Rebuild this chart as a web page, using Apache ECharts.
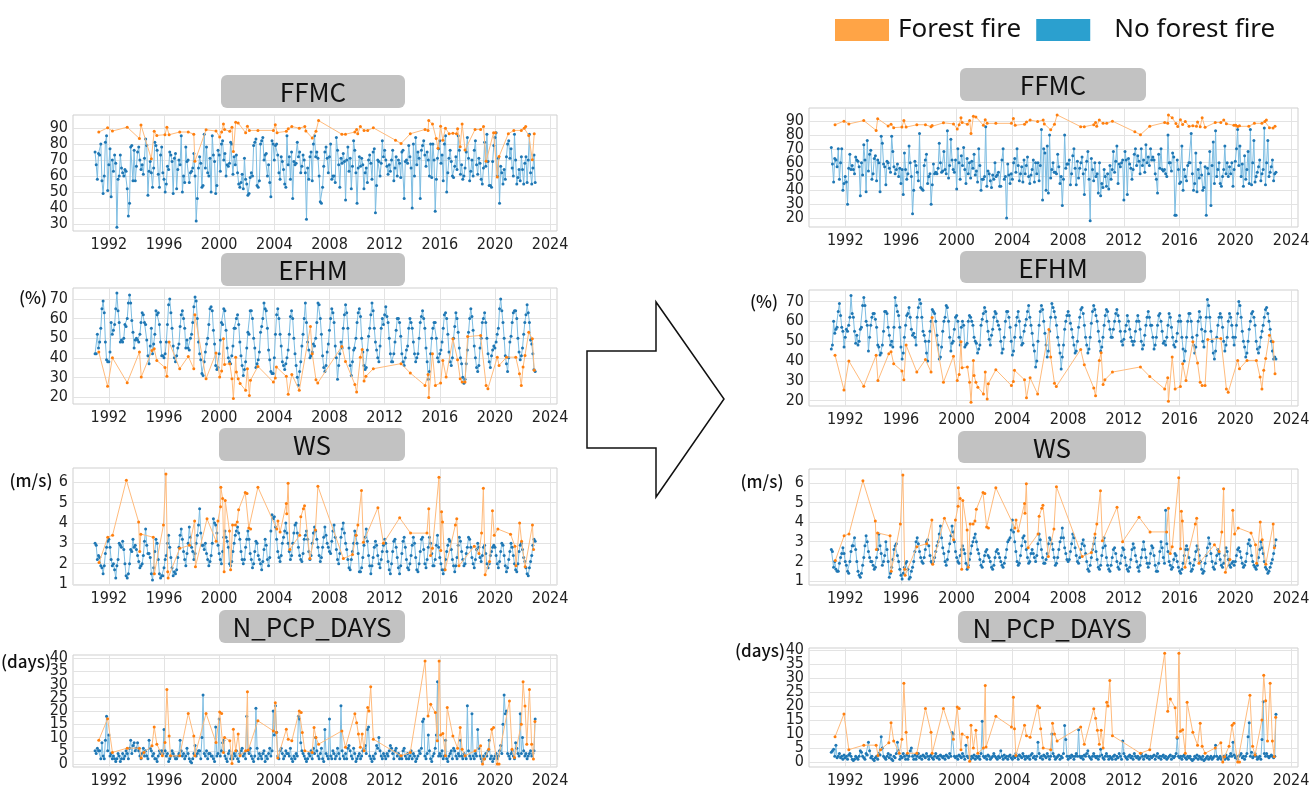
<!DOCTYPE html>
<html>
<head>
<meta charset="utf-8">
<title>Forest fire vs. no forest fire indices</title>
<script src="https://cdn.jsdelivr.net/npm/echarts@6/dist/echarts.min.js"></script>
<style>
  html, body { margin: 0; padding: 0; background: #ffffff; }
  #chart { width: 1315px; height: 789px; }
</style>
</head>
<body>
<div id="chart"></div>
<script>
// ---------------------------------------------------------------
// Data
// ---------------------------------------------------------------
// Monthly "no forest fire" records start in January of this year.
const START_YEAR = 1991;

const xTicks = [1992, 1996, 2000, 2004, 2008, 2012, 2016, 2020, 2024];
const ticksFFMC_L = [30, 40, 50, 60, 70, 80, 90];
const ticksFFMC_R = [20, 30, 40, 50, 60, 70, 80, 90];
const ticksEFHM = [20, 30, 40, 50, 60, 70];
const ticksWS = [1, 2, 3, 4, 5, 6];
const ticksPCP = [0, 5, 10, 15, 20, 25, 30, 35, 40];

// ---- FFMC, no forest fire (monthly), before / after ----
const noFireFFMC_L = [
  75, 67, 58, 74, 73, 80, 57, 49, 60, 81, 85, 51,
  67, 77, 47, 70, 63, 73, 68, 28, 58, 60, 73, 65,
  62, 60, 64, 63, 52, 35, 43, 78, 79, 57, 76, 57,
  66, 75, 78, 70, 64, 67, 61, 71, 83, 79, 48, 63,
  69, 62, 53, 65, 81, 79, 76, 61, 53, 73, 78, 62,
  58, 50, 55, 66, 64, 75, 73, 69, 49, 71, 74, 52,
  64, 70, 67, 85, 50, 60, 56, 78, 69, 70, 56, 62,
  63, 65, 74, 60, 32, 46, 65, 72, 68, 53, 54, 86,
  65, 78, 62, 60, 71, 50, 85, 73, 69, 49, 54, 76,
  73, 63, 80, 82, 70, 74, 60, 67, 66, 68, 81, 80,
  61, 72, 67, 73, 62, 55, 53, 56, 61, 52, 71, 58,
  55, 48, 49, 59, 62, 60, 79, 81, 83, 54, 53, 57,
  80, 82, 84, 70, 73, 74, 60, 67, 56, 47, 82, 80,
  70, 79, 80, 73, 62, 58, 72, 69, 64, 55, 53, 85,
  67, 72, 58, 75, 46, 69, 67, 68, 81, 72, 75, 62,
  66, 73, 70, 62, 33, 65, 58, 72, 75, 57, 80, 85,
  72, 75, 71, 60, 44, 43, 53, 66, 75, 78, 71, 62,
  72, 80, 58, 60, 60, 56, 84, 76, 67, 53, 71, 68,
  74, 69, 45, 70, 78, 63, 71, 52, 66, 82, 76, 62,
  43, 65, 72, 66, 71, 67, 52, 62, 65, 56, 70, 73,
  68, 58, 75, 77, 37, 54, 70, 69, 60, 68, 82, 72,
  76, 70, 66, 61, 67, 63, 70, 76, 57, 65, 72, 60,
  70, 68, 59, 75, 76, 46, 69, 70, 68, 79, 72, 65,
  40, 80, 60, 84, 67, 75, 71, 46, 76, 79, 82, 73,
  66, 75, 70, 60, 80, 59, 80, 70, 38, 58, 71, 77,
  82, 68, 73, 57, 80, 85, 50, 62, 71, 76, 69, 60,
  59, 66, 72, 64, 85, 76, 61, 67, 58, 60, 65, 75,
  84, 71, 57, 63, 70, 60, 76, 82, 67, 61, 71, 68,
  58, 55, 65, 81, 66, 86, 69, 54, 54, 53, 69, 79,
  84, 87, 60, 71, 43, 66, 62, 55, 64, 58, 72, 80,
  82, 71, 77, 65, 60, 86, 70, 55, 59, 64, 57, 72,
  64, 55, 68, 72, 56, 70, 86, 62, 55, 65, 73, 56
];
const noFireFFMC_R = [
  71, 59, 46, 63, 62, 57, 70, 48, 60, 70, 40, 45,
  50, 46, 30, 56, 66, 55, 58, 55, 52, 64, 62, 61,
  57, 36, 60, 51, 73, 62, 39, 76, 54, 66, 69, 48,
  52, 63, 65, 47, 62, 60, 39, 79, 74, 59, 57, 44,
  61, 60, 56, 53, 79, 68, 57, 52, 55, 59, 50, 56,
  45, 55, 37, 67, 55, 48, 52, 72, 60, 50, 23, 40,
  61, 58, 53, 47, 81, 42, 41, 40, 58, 62, 66, 45,
  50, 52, 30, 44, 59, 52, 53, 52, 56, 74, 60, 53,
  54, 68, 55, 52, 83, 49, 58, 77, 62, 55, 53, 62,
  41, 70, 60, 48, 65, 58, 71, 55, 45, 63, 52, 60,
  49, 61, 56, 66, 51, 54, 46, 70, 58, 40, 48, 48,
  50, 86, 43, 54, 52, 47, 42, 51, 48, 60, 50, 51,
  53, 43, 43, 62, 70, 48, 50, 20, 59, 51, 45, 52,
  48, 60, 63, 53, 70, 58, 47, 52, 57, 46, 62, 52,
  58, 64, 50, 45, 51, 55, 62, 46, 60, 52, 60, 47,
  58, 84, 33, 70, 67, 40, 72, 38, 80, 49, 55, 60,
  53, 53, 52, 66, 57, 45, 50, 29, 48, 80, 56, 59,
  59, 62, 44, 52, 65, 70, 56, 44, 61, 49, 56, 60,
  64, 52, 37, 55, 61, 68, 48, 18, 63, 55, 47, 60,
  50, 52, 38, 60, 36, 45, 42, 55, 50, 43, 52, 41,
  58, 48, 55, 68, 53, 61, 72, 45, 59, 57, 60, 62,
  33, 68, 62, 37, 63, 59, 56, 48, 55, 66, 70, 58,
  65, 61, 52, 70, 58, 62, 53, 73, 60, 64, 58, 70,
  62, 64, 62, 52, 48, 38, 66, 56, 70, 55, 54, 55,
  52, 50, 80, 60, 60, 54, 67, 64, 22, 22, 62, 55,
  45, 46, 72, 40, 55, 50, 47, 58, 60, 60, 81, 52,
  40, 45, 67, 39, 55, 49, 60, 51, 40, 42, 57, 22,
  56, 52, 68, 29, 58, 75, 45, 83, 50, 55, 60, 45,
  43, 50, 55, 72, 52, 60, 50, 57, 52, 60, 43, 55,
  61, 70, 84, 58, 72, 50, 59, 43, 65, 48, 55, 68,
  45, 84, 44, 60, 76, 46, 50, 53, 57, 62, 47, 52,
  55, 85, 44, 60, 76, 50, 53, 57, 62, 47, 52, 53
];

// ---- FFMC, forest fire events (decimal year) ----
const fireDateFFMC = [
  1991.27, 1991.91, 1992.26, 1993.33, 1994.22, 1994.33, 1995.08, 1995.29, 1995.48, 1996.07,
  1996.21, 1996.37, 1997.14, 1997.76, 1998.16, 1998.24, 1999.05, 1999.77, 2000.04, 2000.18,
  2000.31, 2000.39, 2000.77, 2000.93, 2001.03, 2001.20, 2001.38, 2001.92, 2002.05, 2002.19,
  2002.81, 2003.93, 2004.07, 2004.20, 2004.87, 2005.01, 2005.27, 2005.81, 2006.21, 2006.29,
  2006.75, 2007.02, 2007.21, 2008.90, 2009.16, 2009.84, 2009.97, 2010.05, 2010.24, 2010.51,
  2010.77, 2011.18, 2012.79, 2013.19, 2013.86, 2014.93, 2015.15, 2015.20, 2015.47, 2015.74,
  2015.87, 2016.06, 2016.22, 2016.41, 2016.68, 2016.95, 2017.21, 2017.29, 2017.48, 2017.62,
  2017.83, 2018.56, 2018.96, 2019.17, 2019.36, 2019.90, 2020.03, 2020.17, 2020.30, 2020.97,
  2021.37, 2021.91, 2022.12, 2022.23, 2022.45, 2022.71, 2022.85
];
const fireFFMC_L = [
  87.4, 90, 88, 90.4, 83.3, 91.8, 70.7, 87.8, 85.3, 85.7,
  90.4, 85.7, 87.4, 87.4, 86, 69.1, 88.8, 88, 84.3, 87.4,
  92.4, 89, 87.8, 90.4, 75.2, 93.5, 93, 87, 91, 88.4,
  88.4, 88.4, 92, 87, 87.8, 89.4, 90.8, 89.8, 90.8, 88,
  83.7, 87.8, 94.5, 86, 86, 87.4, 89, 86.3, 90.8, 88.4,
  88.4, 90, 82.3, 80.2, 86.3, 89, 88.4, 94.5, 92.4, 83.3,
  77.2, 91, 82.3, 89.8, 86.3, 86.7, 86.3, 89.4, 78.2, 92.4,
  76.2, 89, 89, 90.8, 69.1, 87, 87, 59.3, 72.1, 86.3,
  88.4, 88.4, 89.8, 90.8, 85.3, 70.1, 86.3
];
const fireFFMC_R = [
  87.4, 90, 88, 90.4, 83.3, 91.8, 86.5, 87.8, 85.3, 85.7,
  90.4, 85.7, 87.4, 87.4, 86, 86.8, 88.8, 88, 84.3, 87.4,
  92.4, 89, 87.8, 90.4, 81, 93.5, 93, 87, 91, 88.4,
  88.4, 88.4, 92, 87, 87.8, 89.4, 90.8, 89.8, 90.8, 88,
  83.7, 87.8, 94.5, 86, 86, 87.4, 89, 86.3, 90.8, 88.4,
  88.4, 90, 82.3, 80.2, 86.3, 89, 88.4, 94.5, 92.4, 88.3,
  86.2, 91, 87.5, 89.8, 86.3, 86.7, 86.3, 89.4, 86, 92.4,
  85.5, 89, 89, 90.8, 88.1, 87, 87, 86.2, 86.6, 86.3,
  88.4, 88.4, 89.8, 90.8, 85.3, 85.1, 86.3
];

// ---- EFHM (%), no forest fire (monthly) ----
const noFireEFHM_L = [
  42, 42, 52, 45, 48, 55, 65, 69, 63, 48, 39, 38,
  38, 43, 58, 52, 54, 57, 65, 73, 64, 58, 48, 49,
  48, 50, 57, 56, 60, 68, 72, 68, 59, 53, 45, 49,
  50, 49, 48, 52, 58, 63, 62, 58, 57, 49, 41, 37,
  46, 55, 42, 47, 52, 64, 62, 63, 57, 48, 41, 41,
  40, 42, 48, 57, 67, 70, 63, 55, 46, 40, 38, 41,
  45, 47, 56, 62, 64, 60, 55, 45, 49, 45, 44, 50,
  52, 58, 66, 71, 69, 60, 48, 42, 39, 32, 31, 38,
  43, 47, 50, 57, 65, 66, 64, 54, 47, 36, 34, 35,
  42, 49, 58, 57, 65, 64, 54, 45, 40, 38, 37, 41,
  46, 55, 55, 60, 62, 57, 48, 41, 36, 31, 34, 38,
  45, 53, 52, 64, 64, 60, 50, 45, 35, 37, 39, 43,
  53, 56, 60, 68, 65, 64, 55, 44, 39, 33, 32, 32,
  40, 52, 62, 65, 60, 52, 46, 38, 36, 34, 37, 40,
  44, 52, 61, 64, 60, 50, 42, 36, 30, 26, 33, 38,
  46, 52, 60, 68, 58, 48, 44, 40, 41, 43, 47, 46,
  50, 58, 68, 67, 60, 52, 41, 35, 33, 36, 43, 47,
  54, 60, 65, 63, 58, 46, 40, 29, 36, 42, 48, 45,
  55, 62, 67, 63, 55, 45, 36, 31, 38, 44, 45, 50,
  58, 63, 65, 61, 50, 43, 36, 34, 35, 44, 51, 55,
  62, 68, 64, 55, 48, 44, 40, 38, 46, 55, 60, 57,
  62, 66, 61, 58, 50, 42, 38, 38, 42, 48, 54, 60,
  60, 58, 51, 42, 38, 36, 40, 44, 46, 55, 60, 58,
  55, 48, 42, 38, 40, 42, 50, 58, 61, 64, 60, 55,
  45, 38, 29, 33, 42, 50, 55, 58, 58, 50, 40, 38,
  42, 44, 48, 55, 62, 63, 60, 52, 43, 38, 36, 40,
  50, 56, 63, 60, 53, 45, 40, 37, 30, 27, 29, 37,
  44, 53, 60, 65, 61, 54, 46, 40, 35, 33, 36, 45,
  50, 58, 60, 63, 58, 50, 42, 38, 35, 41, 44, 46,
  45, 48, 52, 55, 65, 70, 64, 58, 50, 41, 37, 33,
  40, 48, 51, 58, 63, 64, 64, 60, 50, 43, 39, 41,
  45, 52, 58, 62, 67, 63, 58, 49, 47, 42, 34, 33
];
const noFireEFHM_R = [
  46, 48, 60, 54, 56, 57, 65, 69, 63, 57, 55, 47,
  52, 56, 55, 58, 62, 73, 64, 62, 55, 49, 53, 48,
  50, 56, 57, 68, 72, 68, 60, 58, 45, 52, 58, 62,
  64, 64, 61, 57, 48, 47, 43, 44, 48, 55, 65, 65,
  64, 57, 53, 48, 50, 47, 57, 72, 68, 65, 63, 57,
  47, 41, 44, 52, 58, 63, 64, 67, 62, 56, 53, 54,
  52, 48, 62, 67, 71, 69, 62, 55, 53, 50, 44, 40,
  50, 55, 60, 66, 65, 64, 60, 53, 48, 41, 42, 47,
  55, 60, 62, 68, 67, 60, 52, 45, 49, 50, 56, 62,
  63, 60, 52, 48, 57, 60, 58, 47, 48, 49, 60, 63,
  62, 60, 58, 52, 50, 49, 44, 46, 48, 58, 61, 64,
  67, 65, 60, 55, 51, 48, 53, 56, 62, 65, 64, 60,
  58, 56, 50, 44, 46, 52, 60, 65, 65, 62, 57, 50,
  43, 45, 52, 58, 62, 65, 60, 52, 48, 49, 55, 58,
  61, 65, 68, 62, 58, 54, 48, 45, 37, 40, 50, 58,
  65, 68, 66, 60, 54, 48, 42, 45, 55, 62, 69, 67,
  65, 62, 58, 52, 48, 44, 36, 42, 48, 56, 60, 63,
  65, 63, 59, 56, 52, 48, 44, 45, 50, 57, 62, 66,
  67, 64, 58, 52, 48, 44, 46, 52, 59, 65, 68, 66,
  63, 60, 55, 50, 45, 47, 52, 58, 63, 66, 65, 60,
  56, 52, 52, 56, 60, 64, 66, 63, 60, 55, 50, 48,
  51, 55, 58, 63, 60, 56, 52, 50, 48, 50, 55, 60,
  63, 60, 56, 50, 46, 48, 53, 58, 62, 65, 62, 58,
  58, 52, 46, 48, 52, 58, 63, 64, 60, 55, 49, 50,
  48, 52, 58, 64, 62, 57, 52, 48, 47, 50, 54, 60,
  63, 60, 52, 46, 40, 45, 52, 60, 64, 64, 60, 52,
  48, 44, 47, 53, 60, 65, 62, 56, 50, 47, 55, 62,
  71, 68, 62, 55, 50, 44, 41, 45, 52, 58, 62, 64,
  62, 57, 50, 45, 48, 52, 60, 64, 62, 58, 52, 48,
  52, 58, 64, 70, 68, 62, 55, 50, 47, 42, 44, 50,
  56, 60, 64, 65, 62, 58, 50, 46, 44, 47, 52, 55,
  58, 62, 66, 67, 64, 60, 56, 50, 45, 41, 42, 41
];

// ---- EFHM (%), forest fire events ----
const fireDateEFHM = [
  1991.27, 1991.91, 1992.26, 1993.33, 1994.22, 1994.35, 1995.13, 1995.29, 1995.48, 1996.07,
  1996.21, 1996.37, 1997.14, 1997.76, 1998.16, 1998.24, 1999.05, 1999.77, 2000.04, 2000.18,
  2000.31, 2000.39, 2000.77, 2000.93, 2001.03, 2001.20, 2001.25, 2001.38, 2001.52, 2001.92,
  2002.05, 2002.19, 2002.27, 2002.81, 2003.93, 2004.07, 2004.15, 2004.87, 2005.01, 2005.27,
  2005.81, 2006.62, 2006.75, 2007.02, 2007.15, 2008.90, 2009.16, 2009.84, 2009.97, 2010.24,
  2010.37, 2010.51, 2010.64, 2011.18, 2013.19, 2013.86, 2014.93, 2015.15, 2015.20, 2015.47,
  2015.68, 2016.06, 2016.22, 2016.46, 2016.95, 2017.29, 2017.48, 2017.62, 2017.83, 2018.02,
  2018.96, 2019.36, 2019.49, 2020.17, 2020.30, 2020.84, 2021.51, 2021.78, 2021.91, 2022.04,
  2022.18, 2022.45, 2022.71, 2022.85
];
const fireEFHM = [
  42.9, 25.4, 40, 27.3, 42.9, 30.2, 43.7, 44.6, 38.6, 35,
  30.5, 48, 34.4, 40.7, 34.4, 61.9, 29.3, 42.4, 30.2, 33.2,
  49.7, 36.6, 37, 29.3, 19.2, 40.3, 32.7, 29.3, 26.8, 23.4,
  34.4, 20.8, 28.5, 35.6, 27.6, 29.7, 35.3, 30.5, 21.4, 31.5,
  23.4, 55.9, 42, 28.8, 27.1, 45.8, 38.1, 26.4, 22.5, 40.3,
  44.2, 28.1, 30.5, 34.4, 37, 32.2, 25.9, 31.5, 19.7, 42,
  25.9, 27.1, 38.6, 30.2, 49.7, 39, 29.3, 27.6, 27.6, 50.8,
  51.4, 25.9, 24.2, 40.3, 36.1, 40.3, 40.3, 31.9, 25.9, 35.3,
  41.2, 53, 49.7, 33.6
];

// ---- WS (m/s), no forest fire (monthly) ----
const noFireWS_L = [
  3.0, 2.9, 2.2, 2.4, 2.3, 1.9, 1.8, 1.5, 1.9, 2.5, 2.8, 3.1,
  3.2, 2.8, 2.2, 1.9, 2.0, 1.7, 1.3, 1.9, 2.2, 3.0, 2.9, 2.8,
  3.1, 2.7, 2.0, 1.4, 1.3, 1.5, 2.0, 2.7, 2.6, 3.2, 2.8, 2.9,
  2.7, 2.4, 2.1, 1.8, 1.9, 2.0, 2.4, 3.1, 3.7, 2.9, 2.5, 2.5,
  2.3, 1.5, 1.2, 1.8, 2.6, 3.2, 3.0, 2.2, 1.5, 1.3, 1.4, 1.4,
  1.8, 2.2, 2.4, 3.0, 3.4, 2.8, 2.3, 1.8, 1.4, 1.6, 1.5, 1.7,
  2.3, 2.8, 3.4, 3.7, 3.2, 2.6, 2.2, 1.9, 2.5, 3.0, 3.8, 3.3,
  2.8, 2.6, 2.2, 2.5, 3.0, 3.4, 3.9, 4.7, 3.5, 2.9, 2.9, 2.7,
  3.0, 2.5, 2.2, 1.9, 2.1, 2.4, 3.0, 4.2, 4.0, 3.9, 3.5, 2.9,
  2.5, 2.2, 2.0, 2.6, 3.3, 3.6, 3.3, 3.1, 2.8, 2.0, 1.9, 2.1,
  2.6, 3.0, 3.4, 3.6, 3.8, 3.5, 3.2, 2.6, 2.2, 2.0, 2.2, 2.8,
  3.2, 3.6, 3.2, 2.5, 2.2, 1.8, 2.0, 2.6, 3.1, 3.0, 2.4, 2.2,
  2.0, 1.7, 2.1, 2.7, 3.2, 2.9, 2.2, 1.9, 2.3, 3.6, 4.4, 4.2,
  4.3, 3.8, 3.2, 2.6, 2.3, 2.1, 2.4, 3.0, 3.3, 3.6, 4.0, 3.5,
  3.0, 2.6, 2.2, 2.4, 3.0, 3.5, 3.9, 4.0, 3.5, 2.8, 2.4, 2.2,
  2.1, 2.5, 3.2, 3.4, 3.6, 3.2, 2.6, 2.2, 2.4, 3.0, 3.5, 3.8,
  3.6, 3.2, 2.8, 2.4, 2.1, 2.3, 2.8, 3.3, 3.8, 3.4, 3.0, 2.8,
  2.6, 2.5, 3.1, 3.6, 3.9, 3.3, 2.7, 2.2, 2.0, 2.5, 3.3, 3.7,
  4.0, 3.5, 3.0, 2.7, 2.2, 1.8, 1.7, 2.2, 2.6, 3.0, 3.6, 3.4,
  3.0, 2.5, 1.6, 1.6, 1.8, 2.3, 2.9, 3.3, 3.7, 3.1, 2.4, 1.9,
  1.5, 1.9, 2.3, 2.8, 3.1, 2.9, 2.4, 2.0, 1.8, 2.2, 2.6, 2.9,
  3.2, 3.0, 2.6, 2.1, 1.7, 1.5, 2.0, 2.6, 3.1, 3.2, 2.8, 2.3,
  1.8, 1.5, 1.9, 2.5, 3.1, 3.3, 2.8, 2.2, 1.8, 1.7, 2.0, 2.4,
  2.9, 3.3, 3.0, 2.3, 1.7, 1.6, 2.0, 2.6, 3.2, 3.3, 2.7, 2.0,
  1.8, 2.2, 2.8, 3.3, 3.0, 2.5, 1.9, 1.9, 2.2, 2.9, 3.4, 2.8,
  2.3, 2.0, 1.7, 1.5, 1.7, 2.2, 2.6, 2.9, 3.2, 3.1, 2.7, 2.2,
  1.9, 1.6, 1.9, 2.3, 2.9, 3.3, 3.1, 2.6, 2.2, 1.9, 2.0, 2.5,
  2.8, 3.3, 3.2, 2.8, 2.3, 2.0, 1.8, 2.2, 2.7, 3.0, 2.8, 2.3,
  2.1, 2.4, 2.8, 2.9, 2.5, 2.0, 1.8, 2.0, 2.4, 2.6, 2.8, 2.9,
  2.8, 2.4, 2.0, 1.8, 2.1, 2.6, 3.0, 2.9, 2.4, 1.9, 1.6, 1.8,
  2.2, 2.6, 3.0, 2.8, 2.4, 2.0, 1.7, 1.6, 2.0, 2.6, 2.9, 3.0,
  2.7, 2.3, 2.1, 1.8, 1.5, 1.4, 1.8, 2.1, 2.4, 2.9, 3.2, 3.1
];
const noFireWS_R = [
  2.6, 2.5, 1.7, 2.0, 1.6, 1.5, 1.5, 1.9, 2.2, 2.4, 2.7, 2.4,
  2.0, 1.8, 1.5, 1.4, 2.0, 2.5, 2.8, 2.8, 3.2, 2.6, 2.0, 1.5,
  1.3, 1.2, 1.4, 1.8, 2.2, 2.8, 3.3, 3.0, 2.5, 2.2, 2.0, 2.0,
  1.8, 1.6, 1.7, 2.2, 2.6, 3.4, 2.8, 2.4, 1.8, 2.0, 2.3, 3.0,
  2.6, 2.0, 1.2, 1.4, 1.7, 2.1, 2.6, 2.8, 2.9, 2.3, 2.0, 1.6,
  1.3, 1.1, 1.4, 1.7, 1.9, 2.0, 1.6, 1.1, 1.2, 1.5, 1.7, 2.0,
  2.5, 3.0, 3.2, 2.9, 2.5, 2.2, 2.0, 1.9, 2.2, 2.6, 3.0, 3.1,
  2.8, 2.3, 2.0, 1.9, 2.0, 2.2, 2.5, 2.8, 3.0, 3.4, 3.8, 3.2,
  2.7, 2.4, 2.0, 1.8, 2.1, 2.5, 2.9, 3.3, 3.8, 3.5, 3.0, 2.5,
  2.2, 2.0, 1.9, 2.3, 2.6, 2.8, 2.6, 2.4, 1.9, 1.6, 1.8, 2.1,
  2.4, 2.8, 3.0, 3.2, 3.4, 3.0, 2.6, 2.4, 2.1, 1.8, 1.7, 2.0,
  2.3, 2.5, 2.6, 2.3, 2.2, 2.0, 1.7, 1.6, 1.8, 2.2, 2.5, 2.6,
  2.4, 2.2, 2.0, 1.8, 1.7, 1.9, 2.2, 2.6, 3.0, 3.1, 3.2, 3.6,
  4.1, 3.5, 3.0, 2.5, 2.0, 1.8, 1.9, 2.3, 2.8, 3.2, 3.3, 3.0,
  2.6, 2.2, 1.9, 2.0, 2.4, 2.6, 2.4, 2.2, 2.0, 2.3, 2.9, 3.4,
  3.1, 2.6, 2.2, 1.9, 1.9, 2.1, 2.4, 2.9, 3.2, 3.1, 2.9, 2.6,
  2.2, 1.8, 1.9, 2.2, 2.6, 3.0, 3.2, 3.7, 3.2, 2.7, 2.4, 2.1,
  2.0, 2.1, 2.5, 2.9, 3.4, 3.2, 2.7, 2.3, 2.0, 1.9, 2.2, 2.6,
  2.9, 3.1, 2.8, 2.4, 2.0, 1.6, 1.5, 1.8, 2.2, 2.6, 2.9, 3.2,
  2.5, 2.1, 1.7, 1.6, 1.8, 2.3, 2.7, 3.2, 2.8, 2.2, 1.8, 1.6,
  1.5, 1.8, 2.2, 2.6, 2.7, 2.4, 2.0, 1.7, 1.6, 1.9, 2.3, 2.7,
  2.6, 2.2, 1.8, 1.6, 1.5, 1.7, 2.1, 2.6, 2.9, 2.7, 2.3, 2.0,
  1.7, 1.5, 1.8, 2.2, 2.6, 3.0, 2.6, 2.2, 1.9, 1.7, 1.9, 2.4,
  2.8, 2.7, 2.3, 1.8, 1.5, 1.5, 1.9, 2.5, 3.0, 2.7, 2.2, 1.9,
  4.6, 2.9, 2.5, 2.0, 1.8, 1.6, 1.7, 2.1, 2.4, 2.3, 2.0, 1.7,
  1.5, 1.4, 1.6, 1.9, 2.3, 2.6, 2.8, 2.6, 2.2, 1.9, 1.5, 1.6,
  1.8, 2.1, 2.5, 2.8, 2.6, 2.3, 2.0, 1.6, 1.4, 1.5, 1.9, 2.3,
  2.7, 3.2, 2.9, 2.4, 2.0, 1.7, 1.6, 1.9, 2.3, 2.6, 2.4, 2.1,
  1.8, 1.7, 1.9, 2.3, 2.7, 2.5, 2.1, 1.8, 1.7, 1.9, 2.0, 1.8,
  2.0, 2.3, 2.6, 2.7, 2.5, 2.2, 1.9, 1.7, 1.8, 2.0, 2.4, 2.9,
  3.1, 2.8, 2.3, 2.0, 1.8, 1.7, 1.6, 1.8, 2.2, 2.6, 3.0, 2.7,
  2.4, 2.0, 1.7, 1.6, 1.4, 1.5, 1.7, 1.9, 2.1, 2.4, 2.8, 3.1
];

// ---- WS (m/s), forest fire events ----
const fireDateWS = [
  1991.29, 1991.92, 1992.27, 1993.27, 1994.16, 1994.24, 1994.32, 1995.22, 1995.30, 1995.96,
  1996.14, 1996.27, 1996.30, 1997.14, 1997.85, 1998.22, 1998.28, 1999.12, 1999.78, 1999.91,
  2000.10, 2000.12, 2000.25, 2000.36, 2000.44, 2000.75, 2000.83, 2000.97, 2001.18, 2001.31,
  2001.41, 2001.89, 2002.02, 2002.15, 2002.28, 2002.81, 2004.18, 2004.26, 2004.42, 2004.87,
  2004.90, 2005.00, 2005.13, 2005.84, 2005.92, 2006.11, 2006.19, 2006.58, 2006.98, 2007.16,
  2009.01, 2009.67, 2009.93, 2010.06, 2010.32, 2010.46, 2011.51, 2011.91, 2013.09, 2013.88,
  2015.07, 2015.20, 2015.33, 2015.47, 2015.94, 2016.07, 2016.13, 2016.20, 2016.39, 2017.13,
  2017.23, 2017.39, 2018.50, 2018.84, 2019.03, 2019.16, 2019.29, 2019.61, 2019.82, 2019.95,
  2020.21, 2021.13, 2021.45, 2021.53, 2021.79, 2021.93, 2022.19, 2022.72, 2022.80
];
const fireWS = [
  2.05, 3.3, 3.4, 6.1, 4.05, 2.6, 3.45, 3.3, 1.5, 3.9,
  6.4, 1.6, 1.3, 2.75, 2.9, 4.1, 1.85, 4.2, 3.1, 4.1,
  4.8, 5.75, 5.2, 1.6, 5.1, 3.6, 1.7, 3.9, 3.9, 4.05,
  4.65, 5.5, 5.45, 3.75, 3.7, 5.75, 3.7, 4.1, 3.55, 4.95,
  4.45, 5.95, 2.7, 3.4, 4.3, 4.7, 4.85, 2.25, 3.65, 5.8,
  2.25, 2.45, 3.4, 3.9, 5.6, 3.05, 4.75, 3.0, 4.25, 3.5,
  3.5, 4.7, 2.4, 2.75, 6.25, 2.65, 4.55, 4.05, 1.7, 3.9,
  4.2, 1.9, 2.85, 2.5, 3.5, 5.7, 1.45, 2.1, 4.6, 3.4,
  3.7, 3.45, 2.85, 1.9, 4.0, 3.1, 1.85, 3.9, 2.7
];

// ---- N_PCP_DAYS (days), no forest fire (monthly) ----
const noFirePCP_L = [
  5, 4, 6, 5, 5, 2, 8, 3, 2, 9, 18, 5,
  11, 3, 4, 2, 3, 2, 1, 2, 4, 3, 1, 2,
  4, 2, 3, 5, 4, 2, 6, 9, 4, 7, 8, 5,
  6, 8, 5, 3, 2, 4, 6, 3, 5, 3, 2, 9,
  6, 5, 3, 4, 2, 2, 1, 3, 5, 4, 5, 4,
  13, 5, 3, 4, 1, 2, 3, 5, 4, 3, 2, 2,
  3, 4, 9, 5, 3, 4, 2, 3, 6, 4, 2, 1,
  0.5, 2, 4, 7, 3, 4, 5, 5, 2, 10, 26, 4,
  3, 5, 2, 4, 4, 3, 3, 2, 1, 14, 3, 4,
  17, 3, 5, 8, 9, 3, 2, 1, 4, 5, 2, 3,
  2, 4, 3, 5, 2, 1, 4, 5, 6, 3, 4, 2,
  18, 5, 4, 6, 3, 2, 1, 3, 21, 6, 2, 4,
  3, 2, 4, 5, 1, 3, 2, 4, 6, 3, 5, 20,
  11, 22, 12, 3, 2, 5, 6, 4, 2, 3, 5, 4,
  4, 3, 6, 2, 1, 3, 2, 4, 3, 18, 17, 8,
  5, 4, 3, 2, 1, 2, 4, 3, 5, 2, 6, 4,
  10, 5, 3, 2, 4, 6, 2, 1, 13, 4, 3, 2,
  17, 3, 2, 5, 4, 2, 3, 6, 4, 2, 22, 5,
  3, 2, 4, 2, 6, 7, 5, 3, 2, 6, 4, 1,
  2, 3, 4, 2, 3, 5, 6, 7, 4, 13, 14, 3,
  2, 1, 3, 2, 4, 7, 6, 10, 5, 3, 2, 4,
  3, 2, 4, 3, 5, 7, 6, 4, 2, 5, 6, 3,
  4, 2, 3, 2, 5, 6, 3, 2, 4, 2, 3, 5,
  2, 4, 3, 1, 2, 3, 5, 4, 6, 16, 17, 3,
  2, 4, 11, 5, 2, 1, 3, 4, 6, 11, 31, 3,
  4, 3, 5, 2, 3, 9, 2, 1, 3, 4, 5, 2,
  6, 5, 3, 2, 4, 3, 9, 3, 2, 4, 3, 2,
  22, 5, 3, 2, 19, 3, 2, 4, 3, 13, 6, 3,
  2, 1, 3, 2, 4, 3, 5, 9, 2, 3, 1, 2,
  3, 4, 2, 3, 5, 7, 4, 15, 26, 19, 20, 4,
  3, 2, 4, 5, 3, 2, 8, 6, 4, 3, 19, 4,
  10, 5, 3, 4, 2, 3, 4, 5, 3, 4, 5, 17
];
const noFirePCP_R = [
  3.5, 4, 4.5, 2, 6, 1.5, 2, 3, 1.5, 2, 1, 2.5,
  1.5, 2, 1, 2.5, 3, 2, 1, 0.5, 1, 2, 1.5, 1,
  2, 4, 3.5, 2, 1.5, 1, 3, 2.5, 7, 4, 1.5, 2,
  1, 0.5, 1.5, 2, 1, 3, 2.5, 9, 5, 2, 1.5, 1,
  2, 3, 1.5, 2.5, 1, 0.5, 2, 1.5, 3, 7, 4, 1,
  2, 1.5, 3, 2, 1, 2.5, 1, 2, 4, 5, 2, 1,
  2.5, 1, 2, 3, 1.5, 2, 1, 2.5, 2, 1.5, 3, 2,
  1, 2, 2.5, 1.5, 1, 2, 3, 1.5, 2, 1, 2.5, 2,
  1.5, 2, 1, 2.5, 2, 1.5, 3, 2, 10.5, 10, 2, 1.5,
  2, 1, 2.5, 2, 1.5, 3, 2, 1, 6, 2, 1.5, 2,
  1, 2, 1.5, 2.5, 1, 2, 1.5, 2, 1, 3, 14.5, 2,
  1.5, 2, 1, 2.5, 2, 1, 1.5, 2, 3, 2, 1.5, 1,
  2, 1.5, 4, 2, 1, 2.5, 1.5, 2, 1, 2, 2.5, 1.5,
  1, 2, 1.5, 3, 2, 1, 2.5, 2, 1.5, 3, 2, 1,
  2, 1.5, 2, 1, 2.5, 3, 1.5, 2, 1, 2, 7, 3,
  1.5, 2, 1, 2.5, 2, 1.5, 3, 2, 1, 2, 10, 3,
  2, 1, 1.5, 2, 2.5, 1, 2, 1.5, 3, 13, 8, 2,
  1, 2, 1.5, 2.5, 2, 1, 2, 3, 2, 11.5, 2, 1.5,
  2, 1, 2.5, 2, 3, 4, 2, 1.5, 1, 2, 3, 2,
  1.5, 2, 1, 2, 4.5, 2.5, 1.5, 1, 2, 3, 2, 1,
  2, 1.5, 1, 2, 2.5, 1, 2, 1.5, 3, 2, 1, 7.5,
  3, 2, 1.5, 1, 2, 2.5, 1.5, 2, 1, 3, 2, 1.5,
  2, 1, 1.5, 3, 2, 1, 2, 2.5, 1.5, 2, 1, 2,
  1.5, 2, 2.5, 1, 2, 3, 1.5, 2, 1, 2, 2.5, 1.5,
  2, 1, 1.5, 2, 2.5, 1, 2, 1.5, 2, 3, 8.5, 2,
  1.5, 2, 1, 2, 2.5, 1.5, 1, 2, 1.5, 2, 1, 0.5,
  1, 2, 1.5, 2.5, 1, 2, 1.5, 1, 2, 0.5, 1, 1.5,
  2, 1, 1.5, 2, 1, 1.5, 2, 6, 2, 1, 1.5, 2,
  1, 1.5, 2, 1, 2.5, 1.5, 1, 2, 3, 2, 7, 2.5,
  1.5, 2, 1, 2, 2.5, 3, 1.5, 2, 1, 2, 3, 9,
  14, 2, 3.5, 1.5, 2, 3, 2, 1, 1.5, 2, 1, 8,
  21.5, 3, 2, 3, 2, 1.5, 2, 2.5, 2, 1.5, 2, 17
];

// ---- N_PCP_DAYS (days), forest fire events ----
const fireDatePCP = [
  1991.27, 1991.91, 1992.26, 1993.33, 1994.22, 1994.35, 1994.54, 1995.13, 1995.29, 1995.48,
  1995.88, 1996.07, 1996.21, 1996.37, 1996.47, 1997.14, 1997.76, 1998.16, 1998.24, 1999.05,
  1999.77, 2000.04, 2000.18, 2000.31, 2000.39, 2000.77, 2000.93, 2001.03, 2001.20, 2001.38,
  2001.52, 2001.92, 2002.05, 2002.11, 2002.81, 2003.93, 2004.07, 2004.15, 2004.25, 2004.87,
  2005.01, 2005.27, 2005.81, 2005.95, 2006.03, 2006.21, 2006.75, 2006.88, 2007.02, 2007.21,
  2008.90, 2009.16, 2009.84, 2009.97, 2010.10, 2010.24, 2010.37, 2010.51, 2010.77, 2010.86,
  2010.99, 2011.18, 2013.19, 2013.86, 2014.93, 2015.15, 2015.34, 2015.68, 2015.82, 2015.95,
  2016.06, 2016.22, 2016.41, 2016.54, 2016.95, 2017.29, 2017.48, 2017.62, 2017.83, 2018.56,
  2018.96, 2019.10, 2019.23, 2019.55, 2019.77, 2019.90, 2020.17, 2020.30, 2021.05, 2021.24,
  2021.42, 2021.91, 2022.04, 2022.18, 2022.31, 2022.50, 2022.66, 2022.79, 2022.90
];
const firePCP = [
  9, 17.1, 4.4, 6, 6, 2.3, 4.4, 6.9, 14, 7.5,
  3.1, 8.1, 28.1, 10.6, 3.1, 3.1, 19.1, 10.6, 3.1, 19.1,
  8.1, 19.6, 19.1, 4.4, 10, 8.8, 0.25, 13.1, 5, 11.3,
  3.1, 5, 27.3, 5.3, 16.3, 12.5, 23.1, 11.9, 2.3, 13.1,
  9.4, 8.8, 20, 19.4, 11.9, 5, 4.4, 13.8, 10, 7.5,
  12.5, 6.3, 19, 15.6, 11.3, 6.3, 11.3, 5, 21.3, 20,
  29.1, 9.4, 3.1, 4.4, 38.8, 18.1, 22.5, 19.4, 8.8, 38.8,
  11, 11.5, 3.1, 21.3, 10.6, 6, 13.8, 5.6, 3.1, 5,
  6.9, 0, 1.9, 5.6, 13.1, 13.8, 0, 0, 23.8, 5.6,
  2.5, 15, 31, 21.9, 7.5, 28.1, 7.5, 1.9, 16
];

// ---------------------------------------------------------------
// Styling and layout
// ---------------------------------------------------------------
const FIRE_DOT = '#ff7f0e';
const FIRE_LINE = '#ffbb7c';
const NOFIRE_DOT = '#1f77b4';
const NOFIRE_LINE = '#7dbde2';
const TICK_FONT = "'Liberation Sans Narrow', 'DejaVu Sans Condensed', 'Roboto', sans-serif";
const TITLE_FONT = "'Noto Sans CJK KR', 'Noto Sans', sans-serif";
const X_RANGE = [1989.4, 2024.5];

const panels = [
  // before (left column)
  { title: 'FFMC', unit: '', box: [221, 75, 184, 33], unitAt: null,
    grid: { left: 73, top: 115, width: 484, height: 116 }, y: [25.7, 98], ticks: ticksFFMC_L,
    noFire: noFireFFMC_L, fireX: fireDateFFMC, fireY: fireFFMC_L },
  { title: 'EFHM', unit: '(%)', box: [221, 253, 184, 33], unitAt: [33, 298],
    grid: { left: 73, top: 288, width: 484, height: 116 }, y: [16.4, 75.6], ticks: ticksEFHM,
    noFire: noFireEFHM_L, fireX: fireDateEFHM, fireY: fireEFHM },
  { title: 'WS', unit: '(m/s)', box: [219, 428, 186, 33], unitAt: [31, 481],
    grid: { left: 73, top: 468, width: 484, height: 117 }, y: [0.95, 6.7], ticks: ticksWS,
    noFire: noFireWS_L, fireX: fireDateWS, fireY: fireWS },
  { title: 'N_PCP_DAYS', unit: '(days)', box: [219, 610, 186, 33], unitAt: [26, 662],
    grid: { left: 73, top: 655, width: 484, height: 113 }, y: [-1.1, 41.1], ticks: ticksPCP,
    noFire: noFirePCP_L, fireX: fireDatePCP, fireY: firePCP },
  // after (right column)
  { title: 'FFMC', unit: '', box: [960, 68, 186, 33], unitAt: null,
    grid: { left: 809, top: 108, width: 489, height: 119 }, y: [13.5, 99.5], ticks: ticksFFMC_R,
    noFire: noFireFFMC_R, fireX: fireDateFFMC, fireY: fireFFMC_R },
  { title: 'EFHM', unit: '(%)', box: [960, 251, 186, 32], unitAt: [764, 302],
    grid: { left: 809, top: 290, width: 489, height: 116 }, y: [17.3, 75.8], ticks: ticksEFHM,
    noFire: noFireEFHM_R, fireX: fireDateEFHM, fireY: fireEFHM },
  { title: 'WS', unit: '(m/s)', box: [958, 431, 188, 32], unitAt: [762, 482],
    grid: { left: 809, top: 469, width: 489, height: 116 }, y: [0.8, 6.7], ticks: ticksWS,
    noFire: noFireWS_R, fireX: fireDateWS, fireY: fireWS },
  { title: 'N_PCP_DAYS', unit: '(days)', box: [958, 611, 188, 32], unitAt: [760, 651],
    grid: { left: 809, top: 648, width: 489, height: 119 }, y: [-1.8, 40.7], ticks: ticksPCP,
    noFire: noFirePCP_R, fireX: fireDatePCP, fireY: firePCP }
];

// ---------------------------------------------------------------
// Option
// ---------------------------------------------------------------
const grids = [], xAxes = [], yAxes = [], series = [], graphics = [];

// Each panel gets two overlaid left y axes with the same scale; the tick
// values alternate between them so closely spaced labels never collide.
function yAxisFor(gridIndex, range, values) {
  return {
    type: 'value', gridIndex: gridIndex, position: 'left', offset: 0,
    min: range[0], max: range[1],
    axisLine: { show: false },
    axisTick: { show: false, customValues: values },
    axisLabel: {
      customValues: values, showMinLabel: true, showMaxLabel: true, hideOverlap: false,
      fontFamily: TICK_FONT, fontSize: 16, color: '#222', margin: 5
    },
    splitLine: { show: true, lineStyle: { color: '#e3e3e3', width: 1 } }
  };
}

panels.forEach((p, i) => {
  grids.push(Object.assign({
    show: true, borderColor: '#cfcfcf', borderWidth: 1, backgroundColor: '#ffffff'
  }, p.grid));

  xAxes.push({
    type: 'value', gridIndex: i, min: X_RANGE[0], max: X_RANGE[1],
    axisLine: { show: false },
    axisTick: { show: false, customValues: xTicks },
    axisLabel: {
      customValues: xTicks, formatter: v => String(Math.round(v)),
      showMinLabel: true, showMaxLabel: true, hideOverlap: false,
      fontFamily: TICK_FONT, fontSize: 16, color: '#222', margin: 6
    },
    splitLine: { show: true, lineStyle: { color: '#e3e3e3', width: 1 } }
  });

  const evenTicks = p.ticks.filter((_, k) => k % 2 === 0);
  const oddTicks = p.ticks.filter((_, k) => k % 2 === 1);
  const yMain = yAxes.length;
  yAxes.push(yAxisFor(i, p.y, evenTicks));
  yAxes.push(yAxisFor(i, p.y, oddTicks));

  series.push({
    type: 'line', name: 'No forest fire', xAxisIndex: i, yAxisIndex: yMain,
    data: p.noFire.map((v, k) => [START_YEAR + k / 12, v]),
    symbol: 'circle', symbolSize: 3, showSymbol: true,
    lineStyle: { color: NOFIRE_LINE, width: 1 },
    itemStyle: { color: NOFIRE_DOT },
    z: 2, silent: true
  });
  series.push({
    type: 'line', name: 'Forest fire', xAxisIndex: i, yAxisIndex: yMain,
    data: p.fireX.map((x, k) => [x, p.fireY[k]]),
    symbol: 'circle', symbolSize: 3, showSymbol: true,
    lineStyle: { color: FIRE_LINE, width: 1 },
    itemStyle: { color: FIRE_DOT },
    z: 3, silent: true
  });

  // grey title tab above each panel
  const [bx, by, bw, bh] = p.box;
  graphics.push({
    type: 'rect', left: bx, top: by, z: 10,
    shape: { width: bw, height: bh, r: 6 },
    style: { fill: '#c2c2c2' }
  });
  graphics.push({
    type: 'text', z: 11, x: bx + bw / 2, y: by + bh / 2 + 1,
    style: {
      text: p.title, fill: '#111', font: "26px " + TITLE_FONT,
      textAlign: 'center', textVerticalAlign: 'middle'
    }
  });

  if (p.unit) {
    graphics.push({
      type: 'text', z: 11, x: p.unitAt[0], y: p.unitAt[1],
      style: {
        text: p.unit, fill: '#111', font: "500 17px " + TITLE_FONT,
        textAlign: 'center', textVerticalAlign: 'middle'
      }
    });
  }
});

// block arrow between the two columns
graphics.push({
  type: 'polygon', z: 5,
  shape: { points: [[587, 351], [656, 351], [656, 302], [724, 399], [656, 497], [656, 448], [587, 448]] },
  style: { fill: '#ffffff', stroke: '#111', lineWidth: 1.5 }
});

const option = {
  animation: false,
  backgroundColor: '#ffffff',
  legend: {
    left: 830, top: 12,
    icon: 'rect', itemWidth: 54, itemHeight: 22, itemGap: 15,
    selectedMode: false,
    textStyle: { fontFamily: "'Noto Sans', sans-serif", fontSize: 26, color: '#111' },
    data: [
      { name: 'Forest fire', itemStyle: { color: '#ffa446' },
        textStyle: { padding: [0, 0, 0, 4] } },
      { name: 'No forest fire', itemStyle: { color: '#2ba0cf' },
        textStyle: { padding: [0, 0, 0, 19] } }
    ]
  },
  grid: grids,
  xAxis: xAxes,
  yAxis: yAxes,
  series: series,
  graphic: graphics
};

const chart = echarts.init(document.getElementById('chart'), null, { renderer: 'canvas' });
chart.setOption(option);
</script>
</body>
</html>
